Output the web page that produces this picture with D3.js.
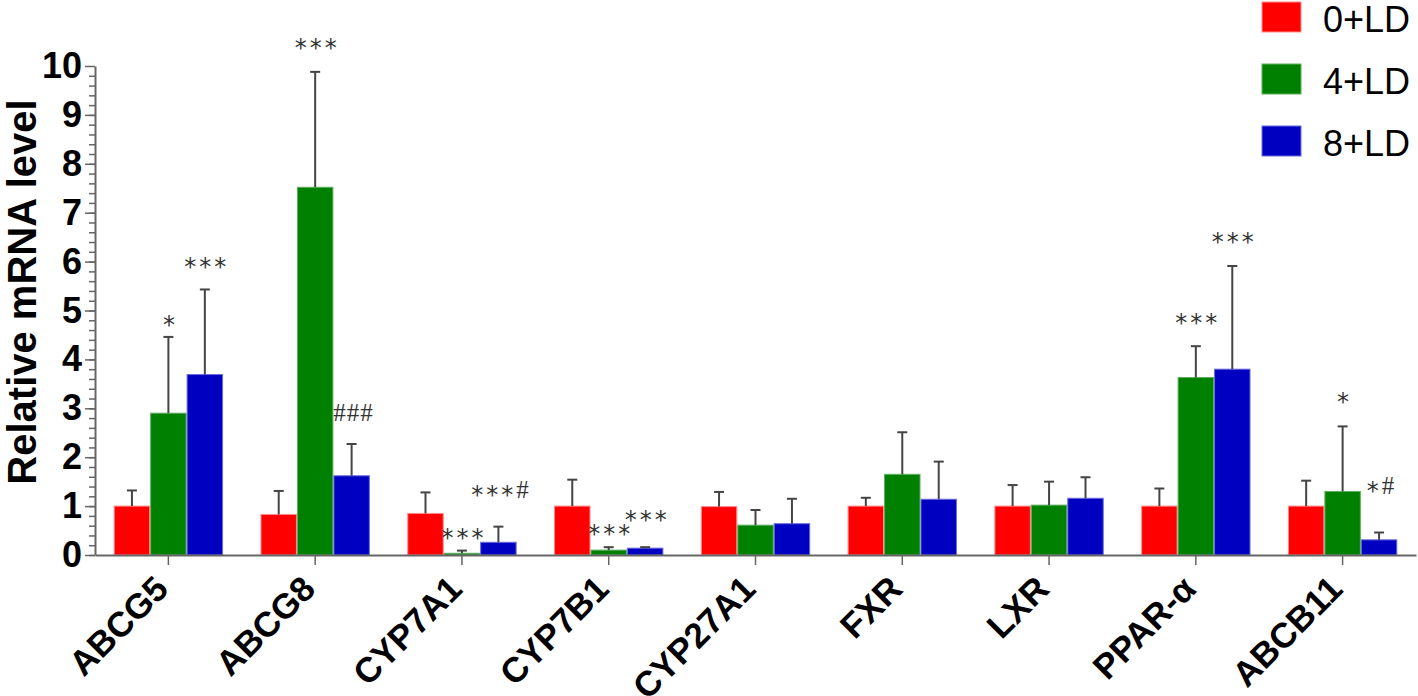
<!DOCTYPE html>
<html>
<head>
<meta charset="utf-8">
<script src="https://cdn.jsdelivr.net/npm/d3@7"></script>
<style>
  body { margin: 0; background: #fff; }
  svg { display: block; font-family: "Liberation Sans", Arial, sans-serif; }
</style>
</head>
<body>
<div id="chart"></div>
<script>
const genes = ["ABCG5", "ABCG8", "CYP7A1", "CYP7B1", "CYP27A1", "FXR", "LXR", "PPAR-α", "ABCB11"];
const groups = ["0+LD", "4+LD", "8+LD"];

// means and upper SD
const mean0 = [1.00, 0.83, 0.85, 1.00, 0.99, 1.00, 1.00, 1.00, 1.00];
const err0  = [0.32, 0.48, 0.43, 0.54, 0.30, 0.17, 0.43, 0.36, 0.52];
const mean4 = [2.90, 7.52, 0.035, 0.10, 0.61, 1.65, 1.02, 3.63, 1.30];
const err4  = [1.56, 2.36, 0.055, 0.06, 0.31, 0.86, 0.48, 0.64, 1.33];
const mean8 = [3.69, 1.62, 0.26, 0.14, 0.64, 1.14, 1.16, 3.80, 0.31];
const err8  = [1.74, 0.65, 0.32, 0.02, 0.51, 0.77, 0.43, 2.11, 0.15];

const yTicks = [0, 1, 2, 3, 4, 5, 6, 7, 8, 9, 10];

// significance marks: gene, group, stars, hashes, level (y units of baseline)
const marks = [
  ["ABCG5", "4+LD", "*", "", 4.55],
  ["ABCG5", "8+LD", "***", "", 5.73],
  ["ABCG8", "4+LD", "***", "", 10.2],
  ["ABCG8", "8+LD", "", "###", 2.75],
  ["CYP7A1", "4+LD", "***", "", 0.19],
  ["CYP7A1", "8+LD", "***", "#", 1.07],
  ["CYP7B1", "4+LD", "***", "", 0.26],
  ["CYP7B1", "8+LD", "***", "", 0.55],
  ["PPAR-α", "4+LD", "***", "", 4.58],
  ["PPAR-α", "8+LD", "***", "", 6.23],
  ["ABCB11", "4+LD", "*", "", 2.96],
  ["ABCB11", "8+LD", "*", "#", 1.15]
];

const colors = ["#ff0000", "#008000", "#0000c0"];
const edges = ["#ff8a8a", "#5fae5f", "#6a6ae0"];

const W = 1418, H = 696;
const axisLeftX = 95, axisRightX = 1416, baseY = 555, topY = 66;

const svg = d3.select("#chart").append("svg")
  .attr("width", W)
  .attr("height", H);

const x0 = d3.scaleBand()
  .domain(genes)
  .range([axisLeftX, axisRightX])
  .paddingInner(0.255)
  .paddingOuter(0.1275);

const x1 = d3.scaleBand()
  .domain(groups)
  .range([0, x0.bandwidth()]);

const y = d3.scaleLinear()
  .domain([0, 10])
  .range([baseY, topY]);

const color = d3.scaleOrdinal().domain(groups).range(colors);
const edge = d3.scaleOrdinal().domain(groups).range(edges);

const means = { "0+LD": mean0, "4+LD": mean4, "8+LD": mean8 };
const errs = { "0+LD": err0, "4+LD": err4, "8+LD": err8 };

const rows = [];
genes.forEach((g, i) => {
  groups.forEach(s => rows.push({ gene: g, group: s, v: means[s][i], e: errs[s][i] }));
});

const cx = (g, s) => x0(g) + x1(s) + x1.bandwidth() / 2;

// bars
svg.append("g")
  .selectAll("rect")
  .data(rows)
  .join("rect")
  .attr("x", d => x0(d.gene) + x1(d.group) + 0.5)
  .attr("y", d => y(d.v))
  .attr("width", x1.bandwidth() - 1)
  .attr("height", d => y(0) - y(d.v))
  .attr("fill", d => color(d.group))
  .attr("stroke", d => edge(d.group))
  .attr("stroke-width", 1);

// error bars (upper only)
const eb = svg.append("g")
  .attr("stroke", "#444")
  .attr("stroke-width", 2);

eb.selectAll("line.v")
  .data(rows)
  .join("line")
  .attr("class", "v")
  .attr("x1", d => cx(d.gene, d.group))
  .attr("x2", d => cx(d.gene, d.group))
  .attr("y1", d => y(d.v))
  .attr("y2", d => y(d.v + d.e));

eb.selectAll("line.cap")
  .data(rows)
  .join("line")
  .attr("class", "cap")
  .attr("x1", d => cx(d.gene, d.group) - 5)
  .attr("x2", d => cx(d.gene, d.group) + 5)
  .attr("y1", d => y(d.v + d.e))
  .attr("y2", d => y(d.v + d.e));

// y axis
const yAxis = svg.append("g")
  .attr("transform", `translate(${axisLeftX},0)`)
  .call(d3.axisLeft(y).tickValues(yTicks).tickSize(10).tickPadding(3).tickSizeOuter(0));

svg.append("g")
  .attr("transform", `translate(${axisLeftX},0)`)
  .call(d3.axisLeft(y).tickValues(d3.range(0, 50).map(i => i * 0.2)).tickSize(6).tickFormat("").tickSizeOuter(0))
  .call(g => g.select(".domain").remove())
  .selectAll("line").attr("stroke", "#666").attr("stroke-width", 1.5);

yAxis.select(".domain").attr("stroke", "#666").attr("stroke-width", 2);
yAxis.selectAll(".tick line").attr("stroke", "#666").attr("stroke-width", 1.5);
yAxis.selectAll(".tick text")
  .attr("fill", "#000")
  .style("font-size", "36px")
  .style("font-weight", "bold")
  .style("font-family", "'Liberation Sans', Arial, sans-serif");

// x axis
const xAxis = svg.append("g")
  .attr("transform", `translate(0,${baseY})`)
  .call(d3.axisBottom(x0).tickSize(10).tickSizeOuter(0).tickFormat(""));

xAxis.select(".domain").attr("stroke", "#666").attr("stroke-width", 2);
xAxis.selectAll(".tick line").attr("stroke", "#666").attr("stroke-width", 1.5);

svg.append("g")
  .selectAll("text")
  .data(genes)
  .join("text")
  .attr("transform", d => `translate(${x0(d) + x0.bandwidth() / 2 + 2},${baseY + 36}) rotate(-45)`)
  .attr("text-anchor", "end")
  .style("font-size", "35px")
  .style("font-weight", "bold")
  .text(d => d);

// y axis title
svg.append("text")
  .attr("transform", `translate(36,292) rotate(-90)`)
  .attr("text-anchor", "middle")
  .style("font-size", "40px")
  .style("font-weight", "bold")
  .text("Relative mRNA level");

// significance marks
const mk = svg.append("g")
  .selectAll("text")
  .data(marks)
  .join("text")
  .attr("x", d => cx(d[0], d[1]) + 2)
  .attr("y", d => y(d[4]))
  .attr("text-anchor", "middle")
  .attr("fill", "#333");

mk.append("tspan")
  .style("font-family", "'DejaVu Sans', sans-serif")
  .style("font-size", "24px")
  .style("letter-spacing", "3px")
  .text(d => d[2]);

mk.append("tspan")
  .attr("dy", d => d[2] ? -5 : 0)
  .style("font-family", "'Liberation Serif', 'Times New Roman', serif")
  .style("font-size", "25px")
  .style("letter-spacing", "1px")
  .text(d => d[3]);

// legend
const legend = svg.selectAll(".legend")
  .data(groups)
  .join("g")
  .attr("class", "legend")
  .attr("transform", (d, i) => `translate(1262,${2 + i * 62})`);

legend.append("rect")
  .attr("width", 39)
  .attr("height", 30)
  .attr("fill", d => color(d))
  .attr("stroke", d => edge(d))
  .attr("stroke-width", 1);

legend.append("text")
  .attr("x", 61)
  .attr("y", 30)
  .style("font-size", "36px")
  .text(d => d);
</script>
</body>
</html>
